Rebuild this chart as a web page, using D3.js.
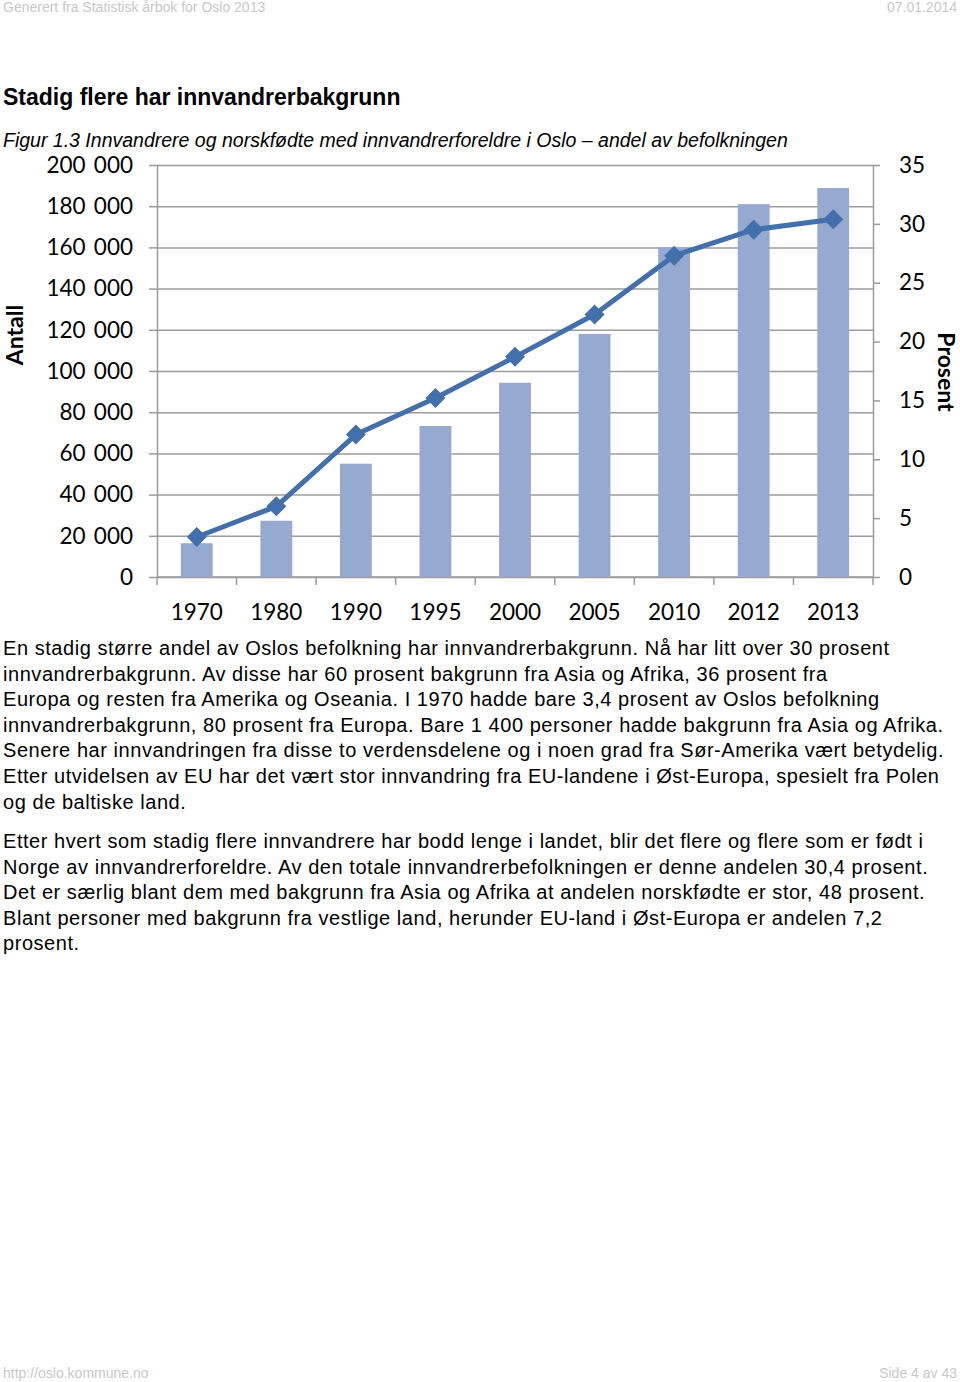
<!DOCTYPE html>
<html>
<head>
<meta charset="utf-8">
<script src="https://cdn.jsdelivr.net/npm/d3@7"></script>
<style>
  html, body { margin: 0; padding: 0; background: #fff; }
  svg { display: block; }
</style>
</head>
<body>
<svg id="page" width="960" height="1382"></svg>
<script>
// ---- Data ----
const years = ["1970", "1980", "1990", "1995", "2000", "2005", "2010", "2012", "2013"];
const antall = [16400, 27300, 55000, 73300, 94300, 118000, 160000, 181000, 188800];
const prosent = [3.4, 6.0, 12.1, 15.2, 18.7, 22.3, 27.3, 29.5, 30.4];
const leftTicks = [0, 20000, 40000, 60000, 80000, 100000, 120000, 140000, 160000, 180000, 200000];
const rightTicks = [0, 5, 10, 15, 20, 25, 30, 35];

const headerLeft = "Generert fra Statistisk årbok for Oslo 2013";
const headerRight = "07.01.2014";
const footerLeft = "http://oslo.kommune.no";
const footerRight = "Side 4 av 43";
const title = "Stadig flere har innvandrerbakgrunn";
const caption = "Figur 1.3 Innvandrere og norskfødte med innvandrerforeldre i Oslo – andel av befolkningen";
const para1 = [
  "En stadig større andel av Oslos befolkning har innvandrerbakgrunn. Nå har litt over 30 prosent",
  "innvandrerbakgrunn. Av disse har 60 prosent bakgrunn fra Asia og Afrika, 36 prosent fra",
  "Europa og resten fra Amerika og Oseania. I 1970 hadde bare 3,4 prosent av Oslos befolkning",
  "innvandrerbakgrunn, 80 prosent fra Europa. Bare 1 400 personer hadde bakgrunn fra Asia og Afrika.",
  "Senere har innvandringen fra disse to verdensdelene og i noen grad fra Sør-Amerika vært betydelig.",
  "Etter utvidelsen av EU har det vært stor innvandring fra EU-landene i Øst-Europa, spesielt fra Polen",
  "og de baltiske land."
];
const para2 = [
  "Etter hvert som stadig flere innvandrere har bodd lenge i landet, blir det flere og flere som er født i",
  "Norge av innvandrerforeldre. Av den totale innvandrerbefolkningen er denne andelen 30,4 prosent.",
  "Det er særlig blant dem med bakgrunn fra Asia og Afrika at andelen norskfødte er stor, 48 prosent.",
  "Blant personer med bakgrunn fra vestlige land, herunder EU-land i Øst-Europa er andelen 7,2",
  "prosent."
];

// ---- Page ----
const svg = d3.select("#page");
const sans = "'Liberation Sans', Arial, sans-serif";
const narrow = "'Liberation Sans Narrow', 'Liberation Sans', Arial, sans-serif";
const chartFont = "Lato, 'Open Sans', sans-serif";

svg.append("text").attr("x", 3).attr("y", 12).attr("font-family", narrow).attr("font-size", 14)
  .attr("fill", "#c8c8c8").text(headerLeft);
svg.append("text").attr("x", 957).attr("y", 12).attr("text-anchor", "end").attr("font-family", narrow)
  .attr("font-size", 14).attr("fill", "#c8c8c8").text(headerRight);
svg.append("text").attr("x", 3).attr("y", 1378).attr("font-family", narrow).attr("font-size", 14)
  .attr("fill", "#c8c8c8").text(footerLeft);
svg.append("text").attr("x", 957).attr("y", 1378).attr("text-anchor", "end").attr("font-family", narrow)
  .attr("font-size", 14).attr("fill", "#c8c8c8").text(footerRight);

svg.append("text").attr("x", 3).attr("y", 105).attr("font-family", sans).attr("font-size", 23)
  .attr("font-weight", "bold").attr("fill", "#000").text(title);
svg.append("text").attr("x", 3).attr("y", 147).attr("font-family", sans).attr("font-size", 19.5)
  .attr("font-style", "italic").attr("fill", "#000").text(caption);

const bodyG = svg.append("g").attr("font-family", sans).attr("font-size", 20)
  .attr("letter-spacing", 0.55).attr("fill", "#000");
para1.forEach((t, i) => bodyG.append("text").attr("x", 3).attr("y", 655 + i * 25.6).text(t));
para2.forEach((t, i) => bodyG.append("text").attr("x", 3).attr("y", 848 + i * 25.6).text(t));

// ---- Chart ----
const L = 157, R = 873, T = 165, B = 577;
const x = d3.scaleBand().domain(years).range([L, R]).paddingInner(0.6).paddingOuter(0.3);
const yL = d3.scaleLinear().domain([0, 200000]).range([B, T]);
const yR = d3.scaleLinear().domain([0, 35]).range([B, T]);
const nf = d3.formatLocale({ decimal: ",", thousands: " ", grouping: [3], currency: ["", ""] }).format(",");

const gridColor = "#9b9b9b";
const chart = svg.append("g");

// gridlines + left axis
const leftAxis = chart.append("g").attr("transform", `translate(${L},0)`)
  .call(d3.axisLeft(yL).tickValues(leftTicks).tickFormat(nf).tickSizeInner(8).tickSizeOuter(0).tickPadding(16));
leftAxis.select(".domain").attr("stroke", gridColor).attr("stroke-width", 1.5);
leftAxis.selectAll(".tick line").attr("stroke", gridColor).attr("stroke-width", 1.5);
leftAxis.selectAll(".tick text").attr("font-family", chartFont).attr("font-size", 22.5)
  .attr("word-spacing", 2.5).attr("fill", "#000");
// horizontal gridlines
leftAxis.selectAll(".tick").append("line").attr("x1", 0).attr("x2", R - L)
  .attr("stroke", gridColor).attr("stroke-width", 1.5);

// right axis
const rightAxis = chart.append("g").attr("transform", `translate(${R},0)`)
  .call(d3.axisRight(yR).tickValues(rightTicks).tickSizeInner(7).tickSizeOuter(0).tickPadding(19));
rightAxis.select(".domain").attr("stroke", gridColor).attr("stroke-width", 1.5);
rightAxis.selectAll(".tick line").attr("stroke", gridColor).attr("stroke-width", 1.5);
rightAxis.selectAll(".tick text").attr("font-family", chartFont).attr("font-size", 22.5).attr("fill", "#000");

// bottom axis: line and boundary ticks
const step = x.step();
const bounds = years.map(y => x(y) + x.bandwidth() / 2 - step / 2).concat([R]);
chart.append("line").attr("x1", L).attr("x2", R).attr("y1", B).attr("y2", B)
  .attr("stroke", gridColor).attr("stroke-width", 1.5);
chart.selectAll(".btick").data(bounds).join("line").attr("class", "btick")
  .attr("x1", d => d).attr("x2", d => d).attr("y1", B).attr("y2", B + 8)
  .attr("stroke", gridColor).attr("stroke-width", 1.5);
chart.selectAll(".xlab").data(years).join("text").attr("class", "xlab")
  .attr("x", d => x(d) + x.bandwidth() / 2).attr("y", 620).attr("text-anchor", "middle")
  .attr("font-family", chartFont).attr("font-size", 22.5).attr("fill", "#000").text(d => d);

// bars
chart.selectAll(".bar").data(years).join("rect").attr("class", "bar")
  .attr("x", d => x(d)).attr("width", x.bandwidth())
  .attr("y", (d, i) => yL(antall[i])).attr("height", (d, i) => B - yL(antall[i]))
  .attr("fill", "#95a9d1");

// line
const lineColor = "#4370ab";
const line = d3.line().x((d, i) => x(years[i]) + x.bandwidth() / 2).y(d => yR(d));
chart.append("path").datum(prosent).attr("d", line).attr("fill", "none")
  .attr("stroke", lineColor).attr("stroke-width", 5).attr("stroke-linejoin", "round");
const sym = d3.symbol().type(d3.symbolSquare).size(200);
chart.selectAll(".mk").data(prosent).join("path").attr("class", "mk")
  .attr("d", sym)
  .attr("transform", (d, i) => `translate(${x(years[i]) + x.bandwidth() / 2},${yR(d)}) rotate(45)`)
  .attr("fill", lineColor);

// axis titles
svg.append("text").attr("transform", "translate(23,335) rotate(-90)").attr("text-anchor", "middle")
  .attr("font-family", chartFont).attr("font-size", 23).attr("font-weight", "bold").attr("fill", "#000")
  .text("Antall");
svg.append("text").attr("transform", "translate(938,372) rotate(90)").attr("text-anchor", "middle")
  .attr("font-family", chartFont).attr("font-size", 23).attr("font-weight", "bold").attr("fill", "#000")
  .text("Prosent");
</script>
</body>
</html>
